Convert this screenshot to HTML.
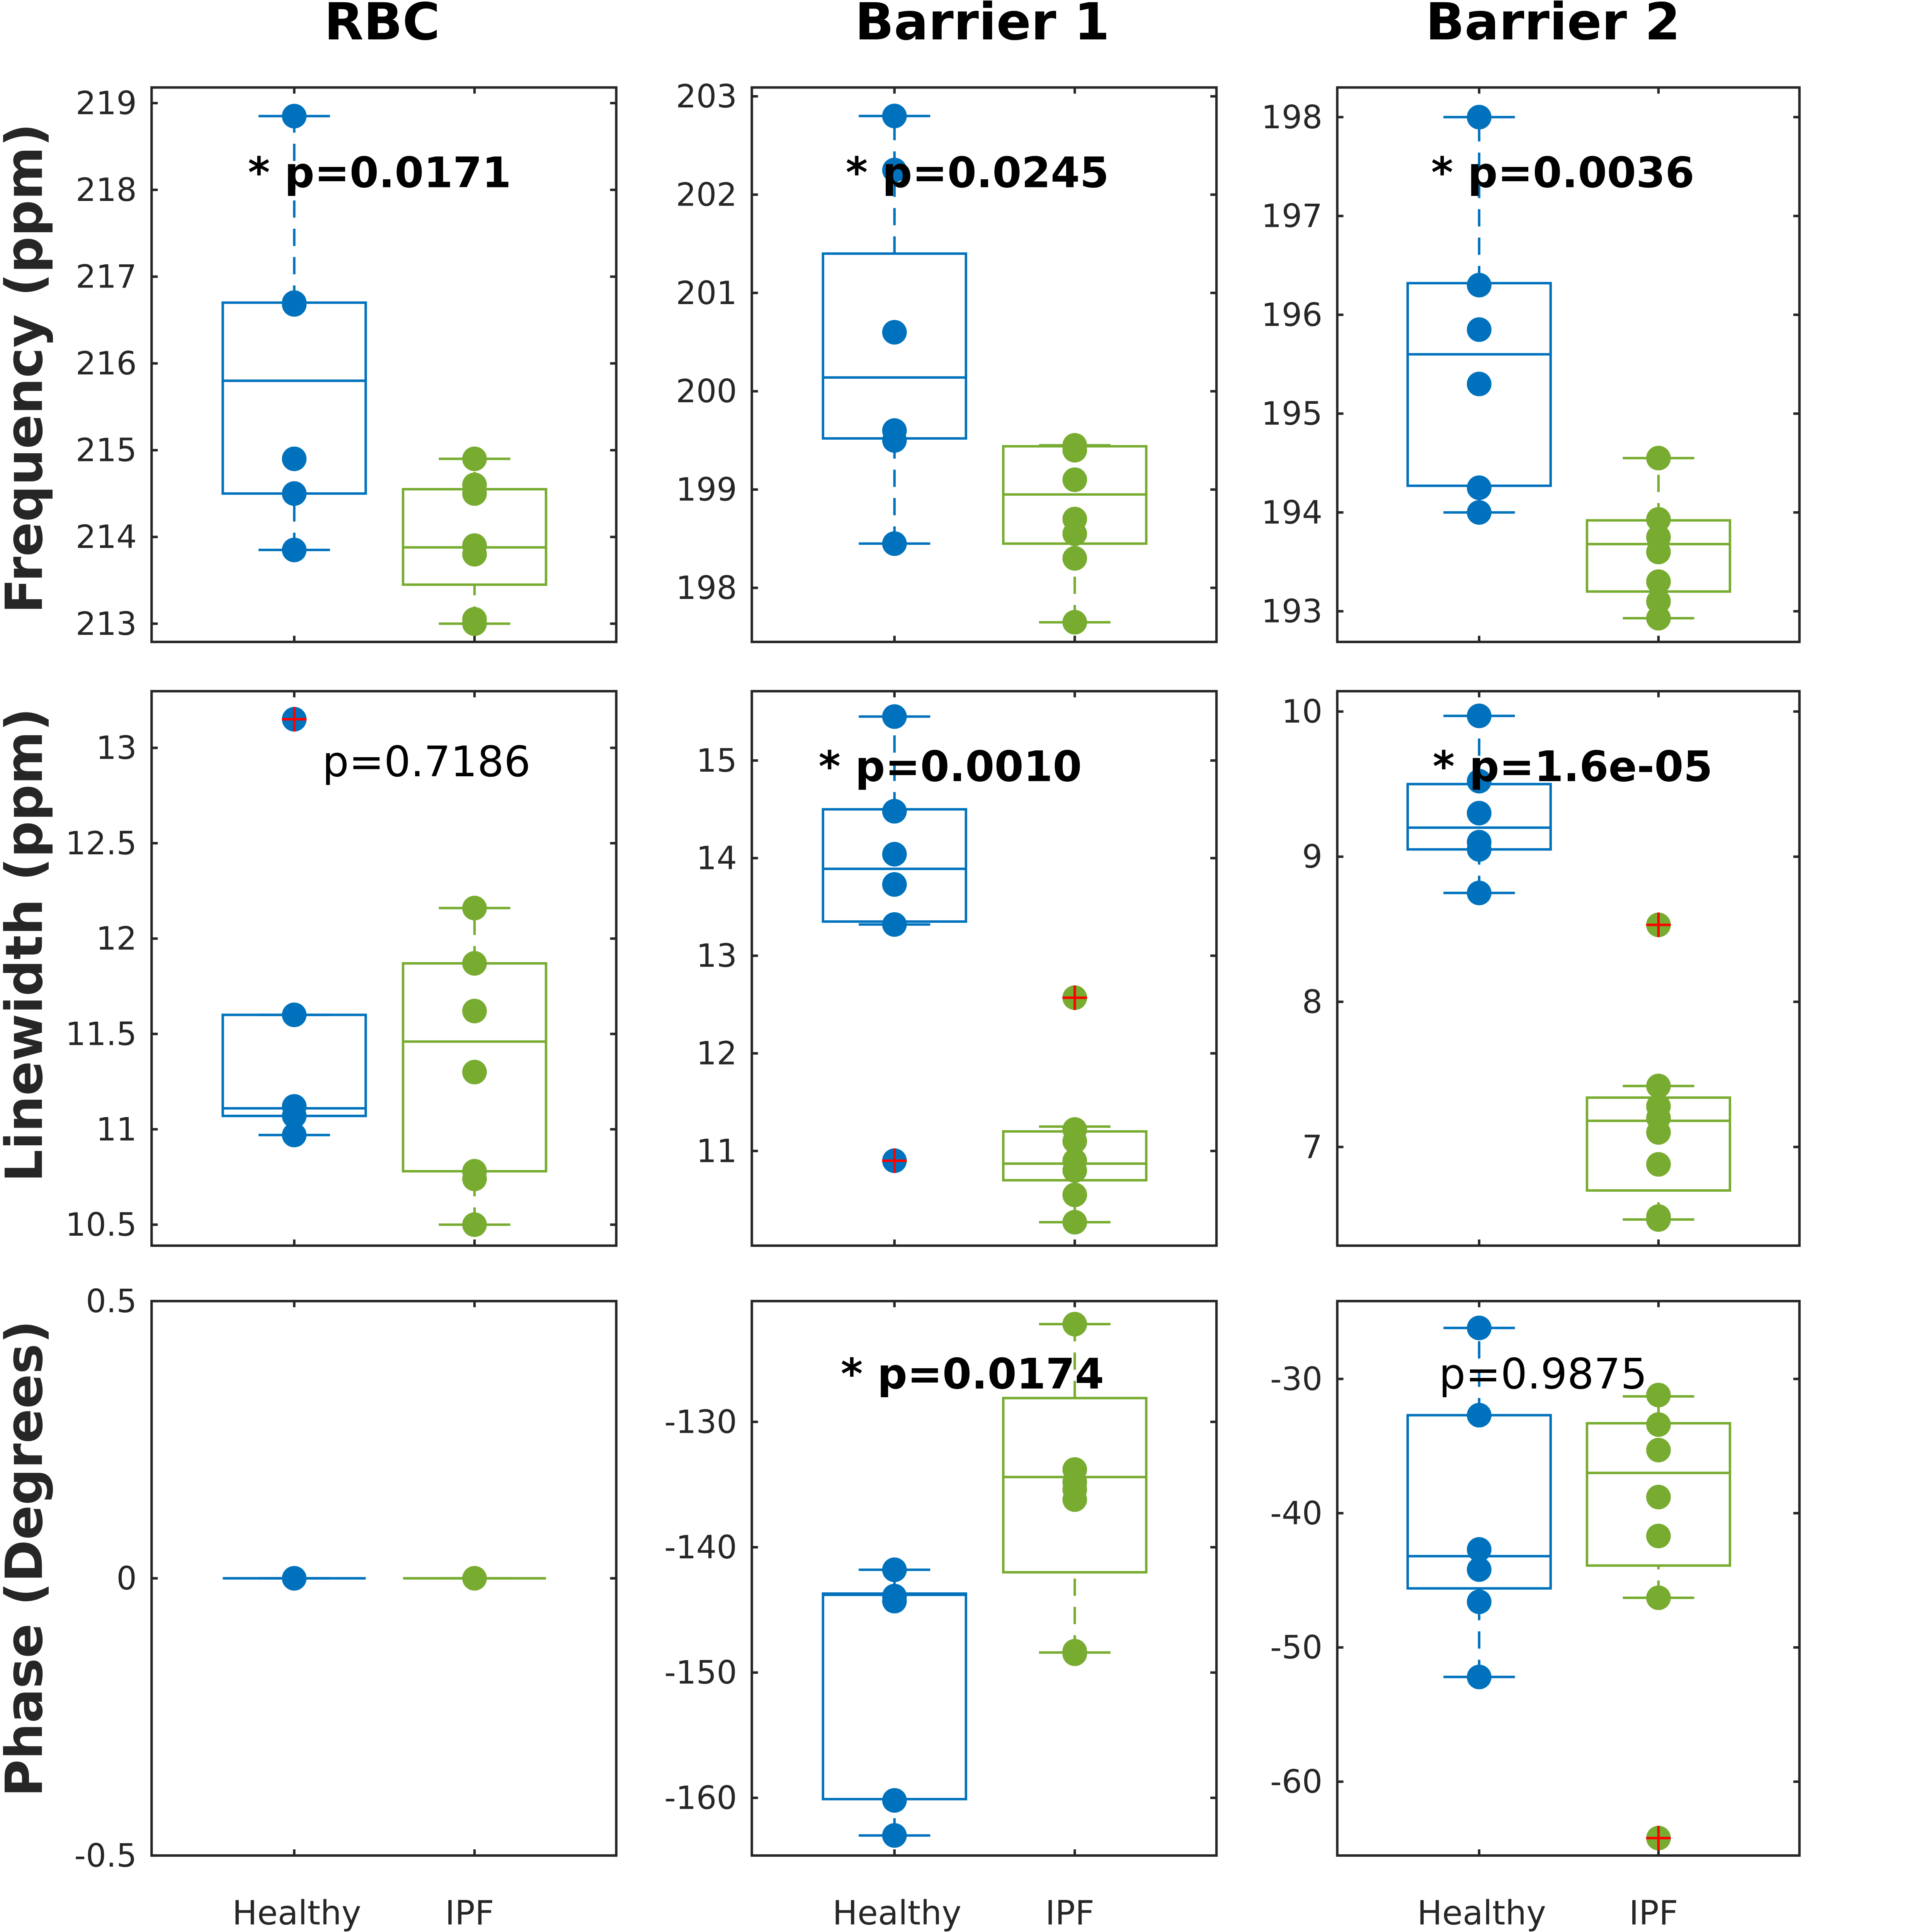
<!DOCTYPE html>
<html><head><meta charset="utf-8"><style>
html,body{margin:0;padding:0;background:#fff;width:4966px;height:5325px;overflow:hidden;}
#wrap{position:absolute;left:0;top:0;width:4966px;height:5325px;overflow:hidden;}
svg{display:block;position:absolute;left:0;top:0;width:4966px;height:5325px;}
text{font-family:"DejaVu Sans","Liberation Sans",sans-serif;}
</style></head><body>
<div id="wrap">
<svg id="fig" xmlns="http://www.w3.org/2000/svg" width="4966" height="5325" viewBox="0 0 1557 1670" preserveAspectRatio="none">
<g id="root"></g>
</svg>
</div>
<script>
// ---- data ----
const groups = ["Healthy", "IPF"];
const colTitles = ["RBC", "Barrier 1", "Barrier 2"];
const rowTitles = ["Frequency (ppm)", "Linewidth (ppm)", "Phase (Degrees)"];

const freqRbcHealthy = [218.85, 216.7, 216.68, 214.9, 214.5, 213.85];
const freqRbcIpf = [214.9, 214.6, 214.5, 213.9, 213.8, 213.05, 213.0];
const freqRbcHealthyBox = [213.85, 214.5, 215.8, 216.7, 218.85];
const freqRbcIpfBox = [213.0, 213.45, 213.88, 214.55, 214.9];

const freqB1Healthy = [202.8, 202.25, 200.6, 199.6, 199.5, 198.45];
const freqB1Ipf = [199.45, 199.4, 199.1, 198.7, 198.55, 198.3, 197.65];
const freqB1HealthyBox = [198.45, 199.52, 200.14, 201.4, 202.8];
const freqB1IpfBox = [197.65, 198.45, 198.95, 199.44, 199.45];

const freqB2Healthy = [198.0, 196.3, 195.85, 195.3, 194.25, 194.0];
const freqB2Ipf = [194.55, 193.93, 193.75, 193.6, 193.3, 193.1, 192.93];
const freqB2HealthyBox = [194.0, 194.27, 195.6, 196.32, 198.0];
const freqB2IpfBox = [192.93, 193.2, 193.68, 193.92, 194.55];

const lwRbcHealthy = [11.6, 11.12, 11.07, 10.97];
const lwRbcHealthyOut = [13.15];
const lwRbcIpf = [12.16, 11.87, 11.62, 11.3, 10.78, 10.74, 10.5];
const lwRbcHealthyBox = [10.97, 11.07, 11.11, 11.6, 11.6];
const lwRbcIpfBox = [10.5, 10.78, 11.46, 11.87, 12.16];

const lwB1Healthy = [15.45, 14.48, 14.04, 13.73, 13.32];
const lwB1HealthyOut = [10.9];
const lwB1Ipf = [11.22, 11.1, 10.9, 10.8, 10.55, 10.27];
const lwB1IpfOut = [12.57];
const lwB1HealthyBox = [13.32, 13.35, 13.89, 14.5, 15.45];
const lwB1IpfBox = [10.27, 10.7, 10.87, 11.2, 11.25];

const lwB2Healthy = [9.97, 9.52, 9.3, 9.1, 9.05, 8.75];
const lwB2Ipf = [7.42, 7.28, 7.2, 7.1, 6.88, 6.52, 6.5];
const lwB2IpfOut = [8.53];
const lwB2HealthyBox = [8.75, 9.05, 9.2, 9.5, 9.97];
const lwB2IpfBox = [6.5, 6.7, 7.18, 7.34, 7.42];

const phRbcHealthy = [0];
const phRbcIpf = [0];
const phRbcHealthyBox = [0, 0, 0, 0, 0];
const phRbcIpfBox = [0, 0, 0, 0, 0];

const phB1Healthy = [-141.8, -143.9, -144.3, -160.2, -163.0];
const phB1Ipf = [-122.2, -133.8, -134.8, -135.4, -136.2, -148.3, -148.5];
const phB1HealthyBox = [-163.0, -160.1, -143.8, -143.7, -141.8];
const phB1IpfBox = [-148.4, -142.0, -134.4, -128.1, -122.2];

const phB2Healthy = [-26.2, -32.7, -42.7, -44.2, -46.6, -52.2];
const phB2Ipf = [-31.2, -33.4, -35.3, -38.8, -41.7, -46.3];
const phB2IpfOut = [-64.2];
const phB2HealthyBox = [-52.2, -45.6, -43.2, -32.7, -26.2];
const phB2IpfBox = [-46.3, -43.9, -37.0, -33.3, -31.3];

const ticksFreqRbc = [213, 214, 215, 216, 217, 218, 219];
const ticksFreqB1 = [198, 199, 200, 201, 202, 203];
const ticksFreqB2 = [193, 194, 195, 196, 197, 198];
const ticksLwRbc = [10.5, 11, 11.5, 12, 12.5, 13];
const ticksLwB1 = [11, 12, 13, 14, 15];
const ticksLwB2 = [7, 8, 9, 10];
const ticksPhRbc = [-0.5, 0, 0.5];
const ticksPhB1 = [-160, -150, -140, -130];
const ticksPhB2 = [-60, -50, -40, -30];

const pTexts = ["* p=0.0171", "* p=0.0245", "* p=0.0036", "p=0.7186", "* p=0.0010", "* p=1.6e-05", "", "* p=0.0174", "p=0.9875"];

// ---- layout ----
const colX = [[123, 500], [610, 987], [1085, 1460]];
const rowY = [[71, 521], [561, 1011], [1056, 1506]];
const ylims = [[212.79,219.18],[197.45,203.09],[192.69,198.3],[10.39,13.297],[10.03,15.71],[6.32,10.14],[-0.5,0.5],[-164.6,-120.36],[-65.5,-24.2]];
const pPos = [[308,140],[793,140],[1268,140],[346,618],[771,622],[1276,622],[0,0],[789,1115],[1252,1115]];
const panels = [
 {h:freqRbcHealthy,i:freqRbcIpf,hb:freqRbcHealthyBox,ib:freqRbcIpfBox,ho:[],io:[],t:ticksFreqRbc,name:'frequency-rbc'},
 {h:freqB1Healthy,i:freqB1Ipf,hb:freqB1HealthyBox,ib:freqB1IpfBox,ho:[],io:[],t:ticksFreqB1,name:'frequency-barrier1'},
 {h:freqB2Healthy,i:freqB2Ipf,hb:freqB2HealthyBox,ib:freqB2IpfBox,ho:[],io:[],t:ticksFreqB2,name:'frequency-barrier2'},
 {h:lwRbcHealthy,i:lwRbcIpf,hb:lwRbcHealthyBox,ib:lwRbcIpfBox,ho:lwRbcHealthyOut,io:[],t:ticksLwRbc,name:'linewidth-rbc'},
 {h:lwB1Healthy,i:lwB1Ipf,hb:lwB1HealthyBox,ib:lwB1IpfBox,ho:lwB1HealthyOut,io:lwB1IpfOut,t:ticksLwB1,name:'linewidth-barrier1'},
 {h:lwB2Healthy,i:lwB2Ipf,hb:lwB2HealthyBox,ib:lwB2IpfBox,ho:[],io:lwB2IpfOut,t:ticksLwB2,name:'linewidth-barrier2'},
 {h:phRbcHealthy,i:phRbcIpf,hb:phRbcHealthyBox,ib:phRbcIpfBox,ho:[],io:[],t:ticksPhRbc,name:'phase-rbc'},
 {h:phB1Healthy,i:phB1Ipf,hb:phB1HealthyBox,ib:phB1IpfBox,ho:[],io:[],t:ticksPhB1,name:'phase-barrier1'},
 {h:phB2Healthy,i:phB2Ipf,hb:phB2HealthyBox,ib:phB2IpfBox,ho:[],io:phB2IpfOut,t:ticksPhB2,name:'phase-barrier2'}
];
const colors = ['#0072BD', '#77AC30'];
const NS = 'http://www.w3.org/2000/svg';
const root = document.getElementById('root');
function mk(tag, attrs, parent, txt){
  const e = document.createElementNS(NS, tag);
  for (const k in attrs) e.setAttribute(k, attrs[k]);
  if (txt !== undefined) e.textContent = txt;
  (parent || root).appendChild(e);
  return e;
}
const titleX = [310, 797, 1260];
colTitles.forEach((t, c) => {
  const e = mk('text', {x:titleX[c], y:32, 'text-anchor':'middle', 'font-size':41.5, 'font-weight':'bold', fill:'#000'}, root, t);
  
  
});
const rowCY = [299, 767, 1265];
rowTitles.forEach((t, r) => {
  const e = mk('text', {x:0, y:0, transform:`translate(34,${rowCY[r]}) rotate(-90)`, 'text-anchor':'middle', 'font-size':41.5, 'font-weight':'bold', fill:'#262626'}, root, t);
  
  
});
panels.forEach((p, k) => {
  const r = Math.floor(k/3), c = k%3;
  const [x0, x1] = colX[c], [y0, y1] = rowY[r];
  const [lo, hi] = ylims[k];
  const yS = v => y1 - (v - lo) / (hi - lo) * (y1 - y0);
  const w = x1 - x0;
  const xS = g => x0 + w * (g === 0 ? 0.307 : 0.695);
  const g = mk('g', {});
  
  
  mk('rect', {x:x0, y:y0, width:w, height:y1-y0, fill:'none', stroke:'#262626', 'stroke-width':2}, g);
  p.t.forEach(t => {
    const y = yS(t);
    mk('line', {x1:x0, x2:x0+5, y1:y, y2:y, stroke:'#262626', 'stroke-width':2}, g);
    mk('line', {x1:x1-5, x2:x1, y1:y, y2:y, stroke:'#262626', 'stroke-width':2}, g);
    const tl = mk('text', {x:x0-12, y:y+9, 'text-anchor':'end', 'font-size':26, fill:'#262626'}, g, String(t));
    
    
  });
  [0, 1].forEach(gi => {
    const x = xS(gi);
    mk('line', {x1:x, x2:x, y1:y0, y2:y0+5, stroke:'#262626', 'stroke-width':2}, g);
    mk('line', {x1:x, x2:x, y1:y1-5, y2:y1, stroke:'#262626', 'stroke-width':2}, g);
    if (r === 2) {
      const xl = mk('text', {x:x+(gi===0?2:-4), y:1562, 'text-anchor':'middle', 'font-size':27, fill:'#262626'}, g, groups[gi]);
      
      
    }
    const b = gi === 0 ? p.hb : p.ib;
    const col = colors[gi];
    const hw = 58;
    const bx = mk('g', {});
    g.appendChild(bx);
    
    
    mk('line', {x1:x, x2:x, y1:yS(b[0]), y2:yS(b[1]), stroke:col, 'stroke-width':2, 'stroke-dasharray':'14,9'}, bx);
    mk('line', {x1:x, x2:x, y1:yS(b[3]), y2:yS(b[4]), stroke:col, 'stroke-width':2, 'stroke-dasharray':'14,9'}, bx);
    mk('line', {x1:x-29, x2:x+29, y1:yS(b[0]), y2:yS(b[0]), stroke:col, 'stroke-width':2}, bx);
    mk('line', {x1:x-29, x2:x+29, y1:yS(b[4]), y2:yS(b[4]), stroke:col, 'stroke-width':2}, bx);
    mk('rect', {x:x-hw, y:yS(b[3]), width:2*hw, height:Math.max(0, yS(b[1])-yS(b[3])), fill:'none', stroke:col, 'stroke-width':2}, bx);
    mk('line', {x1:x-hw, x2:x+hw, y1:yS(b[2]), y2:yS(b[2]), stroke:col, 'stroke-width':2}, bx);
    const pts = gi === 0 ? p.h : p.i;
    pts.forEach(v => {
      const d = mk('circle', {cx:x, cy:yS(v), r:10, fill:col}, g);
      
      
    });
    const outs = gi === 0 ? p.ho : p.io;
    outs.forEach(v => {
      const y = yS(v);
      const d = mk('circle', {cx:x, cy:y, r:10, fill:col}, g);
      
      
      mk('line', {x1:x-10, x2:x+10, y1:y, y2:y, stroke:'#FF0000', 'stroke-width':2}, g);
      mk('line', {x1:x, x2:x, y1:y-10, y2:y+10, stroke:'#FF0000', 'stroke-width':2}, g);
    });
  });
  if (pTexts[k]) {
    const bold = pTexts[k].startsWith('*');
    const pt = mk('text', {x:pPos[k][0], y:pPos[k][1]+12, 'text-anchor':'middle', 'font-size':34, 'font-weight':bold?'bold':'normal', fill:'#000'}, g, pTexts[k]);
    
    
  }
});
</script>
</body></html>
